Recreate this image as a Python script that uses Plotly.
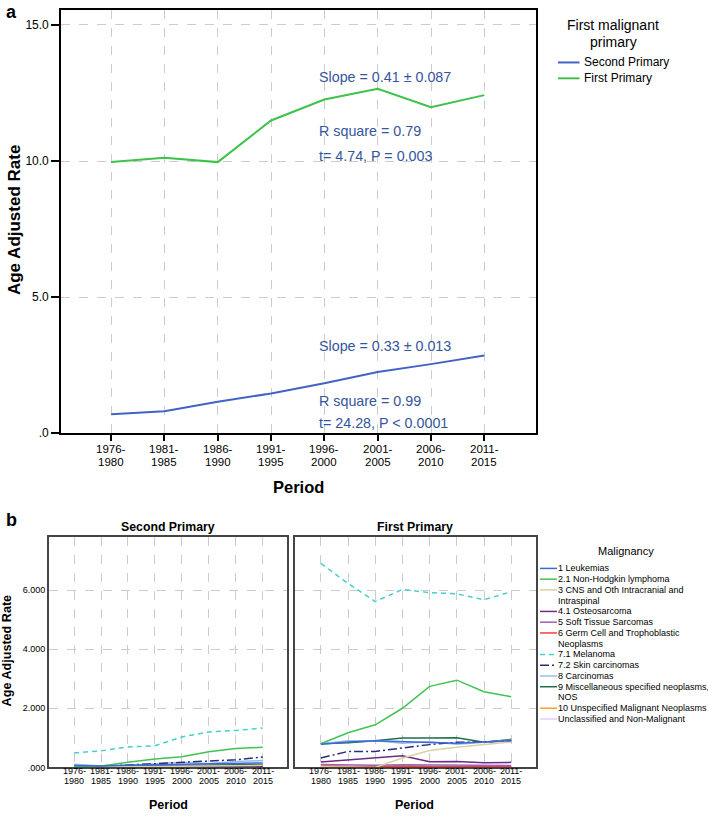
import plotly.graph_objects as go

# ---------------- data ----------------
periods = ["1976-1980", "1981-1985", "1986-1990", "1991-1995",
           "1996-2000", "2001-2005", "2006-2010", "2011-2015"]

# panel a: age adjusted rate by first malignant primary
second_primary_total = [0.70, 0.81, 1.16, 1.46, 1.84, 2.25, 2.54, 2.86]
first_primary_total = [9.96, 10.12, 9.96, 11.49, 12.26, 12.65, 11.98, 12.42]

# panel b: malignancy categories
malignancies = ["1 Leukemias", "2.1 Non-Hodgkin lymphoma",
                "3 CNS and Oth Intracranial and<br>Intraspinal", "4.1 Osteosarcoma",
                "5 Soft Tissue Sarcomas", "6 Germ Cell and Trophoblastic<br>Neoplasms",
                "7.1 Melanoma", "7.2 Skin carcinomas", "8 Carcinomas",
                "9 Miscellaneous specified neoplasms,<br>NOS",
                "10 Unspecified Malignant Neoplasms", "Unclassified and Non-Malignant"]

# Second Primary panel
leuk_second = [0.06, 0.05, 0.07, 0.09, 0.10, 0.12, 0.13, 0.15]
nhl_second = [0.03, 0.05, 0.17, 0.28, 0.36, 0.53, 0.64, 0.68]
cns_second = [0.01, 0.01, 0.02, 0.03, 0.04, 0.05, 0.06, 0.07]
osteo_second = [0.01, 0.01, 0.01, 0.02, 0.02, 0.02, 0.02, 0.03]
soft_second = [0.02, 0.02, 0.03, 0.03, 0.04, 0.05, 0.05, 0.06]
germ_second = [0.00, 0.00, 0.01, 0.01, 0.01, 0.02, 0.02, 0.03]
melanoma_second = [0.49, 0.56, 0.69, 0.73, 1.03, 1.20, 1.25, 1.33]
skin_second = [0.02, 0.03, 0.08, 0.12, 0.17, 0.22, 0.26, 0.35]
carc_second = [0.11, 0.05, 0.07, 0.13, 0.17, 0.13, 0.20, 0.23]
misc_second = [0.02, 0.03, 0.04, 0.05, 0.06, 0.07, 0.08, 0.10]
unspec_second = [0.01, 0.02, 0.02, 0.03, 0.04, 0.05, 0.06, 0.08]
unclass_second = [0.00, 0.00, 0.00, 0.01, 0.01, 0.01, 0.02, 0.02]

# First Primary panel
leuk_first = [0.78, 0.86, 0.90, 0.86, 0.84, 0.82, 0.86, 0.90]
nhl_first = [0.80, 1.17, 1.44, 2.00, 2.74, 2.95, 2.56, 2.39]
cns_first = [0.02, 0.01, 0.00, 0.32, 0.57, 0.68, 0.77, 0.86]
osteo_first = [0.18, 0.25, 0.33, 0.39, 0.19, 0.20, 0.16, 0.17]
soft_first = [0.10, 0.08, 0.07, 0.09, 0.08, 0.07, 0.06, 0.06]
germ_first = [0.03, 0.02, 0.02, 0.03, 0.02, 0.02, 0.02, 0.02]
melanoma_first = [6.90, 6.22, 5.61, 6.02, 5.91, 5.87, 5.67, 5.94]
skin_first = [0.32, 0.54, 0.54, 0.66, 0.77, 0.85, 0.86, 0.90]
carc_first = [0.80, 0.90, 0.90, 0.82, 0.87, 0.78, 0.85, 0.92]
misc_first = [0.80, 0.83, 0.90, 0.99, 0.99, 1.00, 0.85, 0.95]
unspec_first = [0.08, 0.03, 0.02, 0.06, 0.02, 0.02, 0.02, 0.02]
unclass_first = [0.00, 0.00, 0.00, 0.01, 0.01, 0.01, 0.01, 0.01]

y_ticks_a = [0, 5, 10, 15]
y_ticktext_a = [".0", "5.0", "10.0", "15.0"]
y_ticks_b = [0, 2, 4, 6]
y_ticktext_b = [".000", "2.000", "4.000", "6.000"]

# ---------------- styles ----------------
FONT = "Liberation Sans, Arial, sans-serif"
W, H = 708, 820
BLUE = "#4462c4"
GREEN = "#3fc24c"
ANN = "#34569a"
GRID = "#cccccc"

mal_colors = ["#3f67d8", "#3fc44f", "#d8d2a2", "#6c2b86", "#a25fb2", "#ff3b3b",
              "#45cfcf", "#2b2a80", "#93c0ea", "#1f6e4e", "#ffa01e", "#e4cff3"]
mal_dash = ["solid", "solid", "solid", "solid", "solid", "solid",
            "5px,4px", "9px,3px,2px,3px", "solid", "solid", "solid", "solid"]

second_series = [leuk_second, nhl_second, cns_second, osteo_second, soft_second, germ_second,
                 melanoma_second, skin_second, carc_second, misc_second, unspec_second,
                 unclass_second]
first_series = [leuk_first, nhl_first, cns_first, osteo_first, soft_first, germ_first,
                melanoma_first, skin_first, carc_first, misc_first, unspec_first,
                unclass_first]


def px(x):
    return x / W


def py(y):
    return 1 - y / H


fig = go.Figure()

# panel a
fig.add_trace(go.Scatter(x=periods, y=second_primary_total, mode="lines",
                         line=dict(color=BLUE, width=2), name="Second Primary",
                         xaxis="x", yaxis="y", showlegend=False))
fig.add_trace(go.Scatter(x=periods, y=first_primary_total, mode="lines",
                         line=dict(color=GREEN, width=2), name="First Primary",
                         xaxis="x", yaxis="y", showlegend=False))

# panel b (draw in reverse so early categories are on top)
order = list(range(len(malignancies)))[::-1]
for i in order:
    fig.add_trace(go.Scatter(x=periods, y=second_series[i], mode="lines",
                             line=dict(color=mal_colors[i], width=1.5, dash=mal_dash[i]),
                             name=malignancies[i], xaxis="x2", yaxis="y2", showlegend=False))
for i in order:
    fig.add_trace(go.Scatter(x=periods, y=first_series[i], mode="lines",
                             line=dict(color=mal_colors[i], width=1.5, dash=mal_dash[i]),
                             name=malignancies[i], xaxis="x3", yaxis="y3", showlegend=False))

axis_common = dict(showgrid=True, gridcolor=GRID, griddash="dash", gridwidth=1,
                   zeroline=False, mirror=True, showline=True)

fig.update_layout(
    width=W, height=H, margin=dict(l=0, r=0, t=0, b=0),
    paper_bgcolor="white", plot_bgcolor="white",
    font=dict(family=FONT, color="black"),
    xaxis=dict(domain=[px(61), px(535.5)], anchor="y", type="category",
               categoryorder="array", categoryarray=periods,
               range=[-0.94, 7.96], tickvals=periods, showticklabels=False,
               ticks="outside", ticklen=6, tickcolor="black", tickwidth=1.5,
               linecolor="black", linewidth=1.6, **axis_common),
    yaxis=dict(domain=[py(437), py(10)], anchor="x", range=[0, 15.55],
               tickvals=y_ticks_a, ticktext=y_ticktext_a,
               ticks="outside", ticklen=8, tickcolor="black", tickwidth=1.5,
               linecolor="black", linewidth=1.6, tickfont=dict(size=12),
               **axis_common),
    xaxis2=dict(domain=[px(49), px(287)], anchor="y2", type="category",
                categoryorder="array", categoryarray=periods,
                range=[-0.93, 7.9], tickvals=periods, showticklabels=False,
                ticks="", linecolor="#454545", linewidth=2, **axis_common),
    yaxis2=dict(domain=[py(774), py(542)], anchor="x2", range=[0, 7.78],
                tickvals=y_ticks_b, ticktext=y_ticktext_b, ticks="",
                linecolor="#454545", linewidth=2, tickfont=dict(size=9),
                **axis_common),
    xaxis3=dict(domain=[px(295), px(535.7)], anchor="y3", type="category",
                categoryorder="array", categoryarray=periods,
                range=[-0.95, 7.9], tickvals=periods, showticklabels=False,
                ticks="", linecolor="#454545", linewidth=2, **axis_common),
    yaxis3=dict(domain=[py(774), py(542)], anchor="x3", range=[0, 7.78],
                tickvals=y_ticks_b, showticklabels=False, ticks="",
                linecolor="#454545", linewidth=2, **axis_common),
)

annotations = []


def text(x, y, s, size, bold=False, color="black", xanchor="center", angle=0,
         yanchor="middle"):
    if bold:
        s = "<b>" + s + "</b>"
    annotations.append(dict(x=px(x), y=py(y), xref="paper", yref="paper", text=s,
                            showarrow=False, xanchor=xanchor, yanchor=yanchor,
                            textangle=angle, font=dict(size=size, color=color, family=FONT)))


# two-line period tick labels placed through each x axis' category scale
for xref, y1, y2, size in [("x", 452.5, 465.5, 11.5), ("x2", 778, 788.2, 9),
                           ("x3", 778, 788.2, 9)]:
    for p in periods:
        first, second = p.split("-")
        for s, yy in [(first + "-", y1), (second, y2)]:
            annotations.append(dict(x=p, y=py(yy), xref=xref, yref="paper", text=s,
                                    showarrow=False, xanchor="center", yanchor="middle",
                                    font=dict(size=size, color="black", family=FONT)))

# panel labels
text(11, 0, "a", 18, bold=True, yanchor="top")
text(11, 512, "b", 18, bold=True, yanchor="top")

# panel a axis titles
text(14, 222, "Age Adjusted Rate", 17, bold=True, angle=-90)
text(298, 491, "Period", 16.5, bold=True)

# regression annotations in data coordinates
stat_lines = [("Slope = 0.41 ± 0.087", 13.07), ("R square = 0.79", 11.09),
              ("t= 4.74, P = 0.003", 10.18), ("Slope = 0.33 ± 0.013", 3.21),
              ("R square = 0.99", 1.17), ("t= 24.28, P < 0.0001", 0.36)]
for s, yv in stat_lines:
    annotations.append(dict(x=3.87, y=yv, xref="x", yref="y", text=s, showarrow=False,
                            xanchor="left", yanchor="middle",
                            font=dict(size=14.3, color=ANN, family=FONT)))

# panel b titles
text(168, 532, "Second Primary", 12.3, bold=True)
text(415, 532, "First Primary", 12.3, bold=True)
text(7, 656, "Age Adjusted Rate", 12.6, bold=True, angle=-90)
text(168, 812, "Period", 12.5, bold=True)
text(415, 812, "Period", 12.5, bold=True)

shapes = []

# legend a
text(613, 25, "First malignant", 14)
text(613, 42, "primary", 14)
for j, (nm, col) in enumerate([("Second Primary", BLUE), ("First Primary", GREEN)]):
    yy = 63 + 16 * j
    shapes.append(dict(type="line", xref="paper", yref="paper", x0=px(558), x1=px(579.5),
                       y0=py(yy), y1=py(yy), line=dict(color=col, width=2)))
    text(582, yy, nm, 12, xanchor="left")

# legend b
text(626, 556, "Malignancy", 11)
line_y = 573.3
step = 10.85
for i, nm in enumerate(malignancies):
    parts = nm.split("<br>")
    shapes.append(dict(type="line", xref="paper", yref="paper", x0=px(540), x1=px(557),
                       y0=py(line_y), y1=py(line_y),
                       line=dict(color=mal_colors[i], width=1.5, dash=mal_dash[i])))
    for k, part in enumerate(parts):
        text(556, line_y + k * step, part, 9, xanchor="left")
    line_y += step * len(parts)

fig.update_layout(annotations=annotations, shapes=shapes)

page_fix = ("var d=document.documentElement,b=document.body;"
            "d.style.margin='0';d.style.padding='0';d.style.overflow='hidden';"
            "b.style.margin='0';b.style.padding='0';b.style.overflow='hidden';")
fig.write_html("out.html", config={"displayModeBar": False}, post_script=page_fix)
